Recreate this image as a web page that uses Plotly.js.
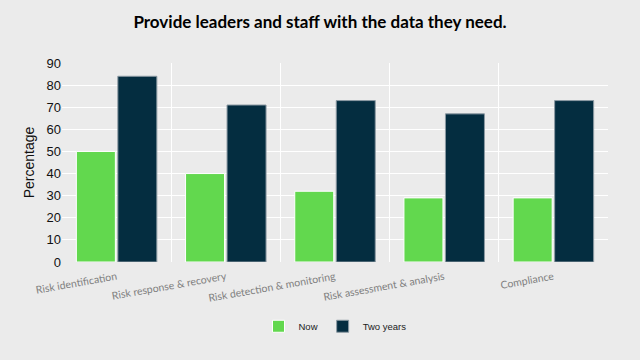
<!DOCTYPE html>
<html><head><meta charset="utf-8">
<script src="https://cdn.plot.ly/plotly-3.0.1.min.js"></script>
<style>html,body{margin:0;padding:0;background:#ebebeb}</style>
</head><body><div id="chart" style="width:640px;height:360px"></div>
<script>
const categories = ["Risk identification","Risk response & recovery","Risk detection & monitoring","Risk assessment & analysis","Compliance"];
const nowValues = [50, 40, 32, 29, 29];
const twoYearValues = [84, 71, 73, 67, 73];
const yTicks = [0,10,20,30,40,50,60,70,80,90];

const idx = categories.map((c,i)=>i);
const traces = [
  {type:'bar', name:'Now', x:idx, y:nowValues, marker:{color:'#62d84e', line:{color:'#ffffff', width:1}}},
  {type:'bar', name:'Two years', x:idx, y:twoYearValues, marker:{color:'#042d40', line:{color:'#8c9aa3', width:1}}},
  {type:'scatter', x:[], y:[], xaxis:'x2', showlegend:false, hoverinfo:'skip'}
];
const bounds = idx.slice(1).map(i=>i-0.5);
const layout = {
  width:640, height:360,
  paper_bgcolor:'#ebebeb', plot_bgcolor:'#ebebeb',
  margin:{l:62, r:32, t:63, b:98},
  title:{text:'Provide leaders and staff with the data they need.', font:{family:'Lato, Inter, sans-serif', size:17, color:'#000', weight:'bold'}, x:0.5, xanchor:'center', y:0.94, yanchor:'middle'},
  barmode:'group', bargap:0.24, bargroupgap:0.06,
  xaxis:{tickmode:'array', tickvals:idx, ticktext:categories, tickangle:-10, range:[-0.5, categories.length-0.5],
    showgrid:false, zeroline:false, showline:false, ticks:'outside', ticklen:4, tickcolor:'rgba(0,0,0,0)', tickfont:{family:'Lato, sans-serif', size:10.5, color:'#808080'}},
  xaxis2:{overlaying:'x', matches:'x', range:[-0.5, categories.length-0.5], tickmode:'array', tickvals:bounds, showticklabels:false,
    showgrid:true, gridcolor:'#ffffff', gridwidth:1, zeroline:false, ticks:''},
  yaxis:{range:[0,90], tickmode:'array', tickvals:yTicks, showgrid:true, gridcolor:'#ffffff', gridwidth:1, zeroline:false,
    tickfont:{family:'Liberation Sans, Arial, sans-serif', size:13, color:'#111'},
    title:{text:'Percentage', font:{family:'Liberation Sans, Arial, sans-serif', size:14, color:'#111'}, standoff:8}},
  legend:{orientation:'h', x:0.5, xanchor:'center', y:-0.25, yanchor:'top', font:{family:'Liberation Sans, Arial, sans-serif', size:9.5, color:'#222'}},
  showlegend:true
};
Plotly.newPlot('chart', traces, layout, {displayModeBar:false, staticPlot:true});
</script></body></html>
